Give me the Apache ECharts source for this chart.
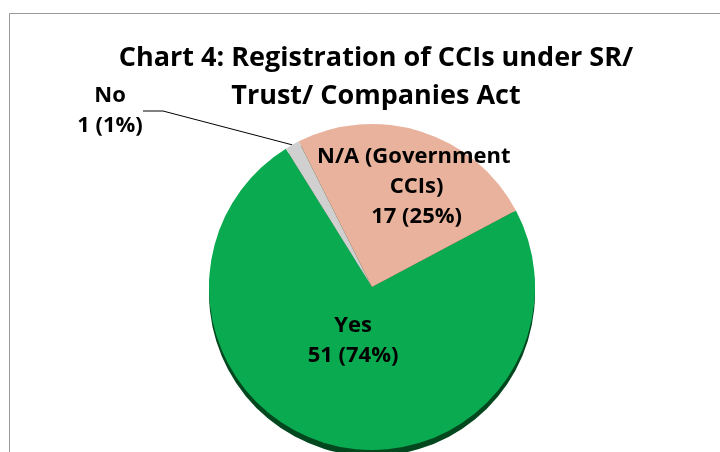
<!DOCTYPE html>
<html>
<head>
<meta charset="utf-8">
<title>Chart 4</title>
<script src="https://cdn.jsdelivr.net/npm/echarts@6/dist/echarts.min.js"></script>
<style>
    html, body { margin:0; padding:0; background:#fff; }
    #chartDiv { width:720px; height:452px; }
</style>
</head>
<body>
<div id="chartDiv"></div>
<script type="text/javascript">
    // data
    var categories = ['Yes', 'No', 'N/A (Government CCIs)'];
    var counts = [51, 1, 17];
    var sliceColors = ['#0aab50', '#d0d0d0', '#e9b29c'];
    var chartTitle = 'Chart 4: Registration of CCIs under SR/\nTrust/ Companies Act';

    var fontName = "'Open Sans', sans-serif";

    var pieData = [];
    var rimData = [];
    for (var i = 0; i < categories.length; i++) {
        pieData.push({ name: categories[i], value: counts[i], itemStyle: { color: sliceColors[i] } });
        rimData.push({ name: categories[i], value: counts[i] });
    }
    // the small "No" slice gets its label outside with a leader line
    pieData[1].label = { position: 'outside', width: 66 };
    pieData[1].labelLine = { show: true, length: 20, length2: 20, lineStyle: { color: '#000', width: 1 } };

    var chart = echarts.init(document.getElementById('chartDiv'));
    chart.setOption({
        backgroundColor: '#fff',
        animation: false,
        title: {
            text: chartTitle,
            left: 371,
            top: 34,
            textAlign: 'center',
            textStyle: { fontFamily: fontName, fontWeight: 'bold', fontSize: 27, lineHeight: 38, color: '#000' }
        },
        graphic: [{
            type: 'rect',
            shape: { x: 9.5, y: 13.5, width: 730, height: 460 },
            style: { fill: 'none', stroke: '#9a9a9a', lineWidth: 1 },
            silent: true
        }],
        series: [{
            // dark rim under the pie (3d edge)
            type: 'pie',
            center: [372, 293],
            radius: 163,
            startAngle: 28,
            silent: true,
            label: { show: false },
            labelLine: { show: false },
            itemStyle: { color: '#02471e' },
            data: rimData
        }, {
            type: 'pie',
            center: [372, 287],
            radius: 163,
            startAngle: 28,
            percentPrecision: 0,
            avoidLabelOverlap: false,
            itemStyle: { borderWidth: 0 },
            label: {
                show: true,
                position: 'inside',
                formatter: '{b}\n{c} ({d}%)',
                fontFamily: fontName,
                fontWeight: 'bold',
                fontSize: 22,
                lineHeight: 30,
                color: '#000',
                width: 200,
                overflow: 'break'
            },
            labelLine: { show: false },
            labelLayout: function (p) {
                if (p.dataIndex == 1) {
                    return { x: 110, y: 111, align: 'center', verticalAlign: 'middle' };
                }
                if (p.dataIndex == 0) {
                    return { dx: 3, dy: -28 };
                }
                return { dx: 19, dy: -20 };
            },
            emphasis: { disabled: true },
            data: pieData
        }]
    });
</script>
</body>
</html>
